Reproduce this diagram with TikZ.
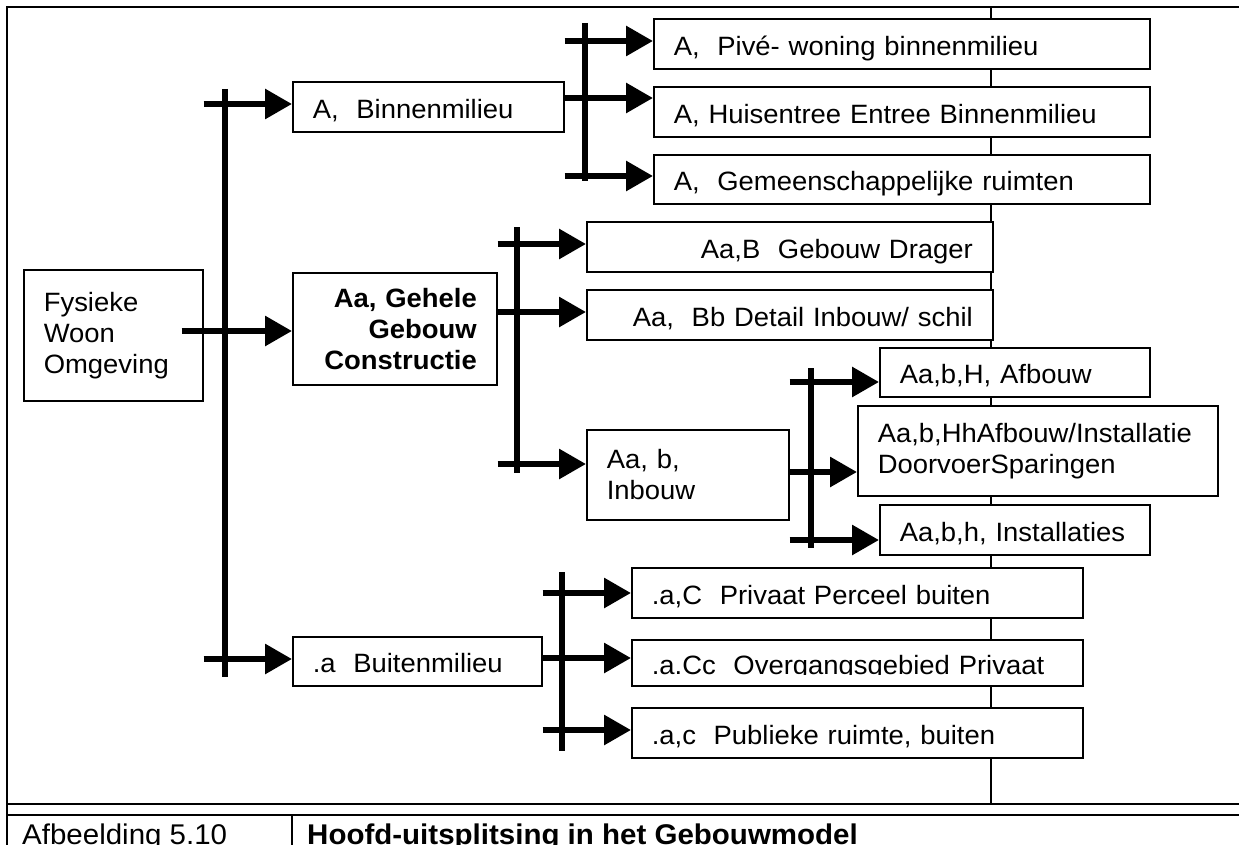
\documentclass[tikz,border=0pt]{standalone}
\usepackage{fontspec}
\setmainfont{Liberation Sans}[FakeStretch=1.035]
\usetikzlibrary{arrows.meta,positioning}

\begin{document}
\begin{tikzpicture}[x=1pt,y=-1pt,
  box/.style={draw,fill=white,line width=1.6pt,inner xsep=20pt,inner ysep=0pt,
    anchor=north west,font=\fontsize{26.5}{31}\selectfont},
  one/.style={text height=23pt,text depth=0pt},
  arr/.style={line width=6pt,-{Triangle[length=27pt,width=29pt]}},
  bus/.style={line width=6pt},
  frame/.style={line width=2pt}]

\useasboundingbox (0,0) rectangle (1239,845);

%% frame and caption rules
\draw[frame] (1239,7) -- (7,7) -- (7,845);
\draw[frame] (7,804) -- (1239,804);
\draw[frame] (7,815) -- (1239,815);
\draw[frame] (292,815) -- (292,845);
\draw[line width=1.3pt] (991,7) -- (991,804);

%% one-line boxes
\foreach \nm/\xa/\ya/\xb/\yb/\al/\txt in {
  binnen/292/81/563/131/left/{A,\ \ Binnenmilieu},
  buiten/292/636/541/685/left/{.a\ \ Buitenmilieu},
  pive/653/18/1149/68/left/{A,\ \ Piv\'e- woning binnenmilieu},
  huis/653/86/1149/136/left/{A, Huisentree Entree Binnenmilieu},
  gemeen/653/154/1149/203/left/{A,\ \ Gemeenschappelijke ruimten},
  drager/586/221/992/271/right/{Aa,B\ \ Gebouw Drager},
  schil/586/289/992/339/right/{Aa,\ \ Bb Detail Inbouw/ schil},
  afbouw/879/347/1149/396/left/{Aa,b,H, Afbouw},
  install/879/504/1149/554/left/{Aa,b,h, Installaties},
  privaat/631/567/1082/617/left/{.a,C\ \ Privaat Perceel buiten},
  overgang/631/639/1082/685/left/{.a.Cc\ \ Overgangsgebied Privaat},
  publiek/631/707/1082/757/left/{.a,c\ \ Publieke ruimte, buiten}}
{
  \pgfmathsetmacro\tw{\xb-\xa-40}
  \pgfmathsetmacro\bh{\yb-\ya}
  \node[box,one,align=\al,text width=\tw pt,minimum height=\bh pt] (\nm) at (\xa,\ya) {\txt};
}

%% boxes with more lines
\foreach \nm/\xa/\ya/\xb/\yb/\al/\txt in {
  fys/23/269/202/400/left/{Fysieke\\Woon\\Omgeving},
  gehele/292/272/496/384/right/{\bfseries Aa, Gehele\\Gebouw\\Constructie},
  inbouw/586/429/788/519/left/{Aa, b,\\Inbouw},
  doorvoer/857/405/1217/495/left/{Aa,b,HhAfbouw/Installatie\\DoorvoerSparingen}}
{
  \pgfmathsetmacro\tw{\xb-\xa-40}
  \pgfmathsetmacro\bh{\yb-\ya}
  \node[box,align=\al,text width=\tw pt,minimum height=\bh pt] (\nm) at (\xa,\ya) {\txt};
}

%% the overgang text is cut at its foot
\fill[white] (640,674.5) rectangle (1075,684);

%% forks
\foreach \x/\ya/\yb in {225/89/677, 585/23/181, 517/227/473, 811/368/548, 562/572/751}
  \draw[bus] (\x,\ya) -- (\x,\yb);

%% arrows
\foreach \from/\y/\to in {fys/104/binnen, fys/659/buiten,
  binnen/41/pive, binnen/98/huis, binnen/176/gemeen,
  gehele/244/drager, gehele/312/schil, gehele/464/inbouw,
  inbouw/382/afbouw, inbouw/472/doorvoer, inbouw/540/install,
  buiten/593/privaat, buiten/658/overgang, buiten/730/publiek}
  \draw[arr] (\from.east |- 0,\y) -- (\to.west |- 0,\y);
\coordinate (fysout) at ([xshift=-22pt]fys.east);
\draw[arr] (fysout |- 0,331) -- (gehele.west |- 0,331);

%% caption
\node[anchor=base west,inner sep=0pt,font=\fontsize{28.5}{34}\selectfont] (fig) at (22,844) {Afbeelding 5.10};
\node[anchor=base west,inner sep=0pt,font=\fontsize{28.5}{34}\selectfont\bfseries] (title) at (307,844) {Hoofd-uitsplitsing in het Gebouwmodel};

\end{tikzpicture}
\end{document}
